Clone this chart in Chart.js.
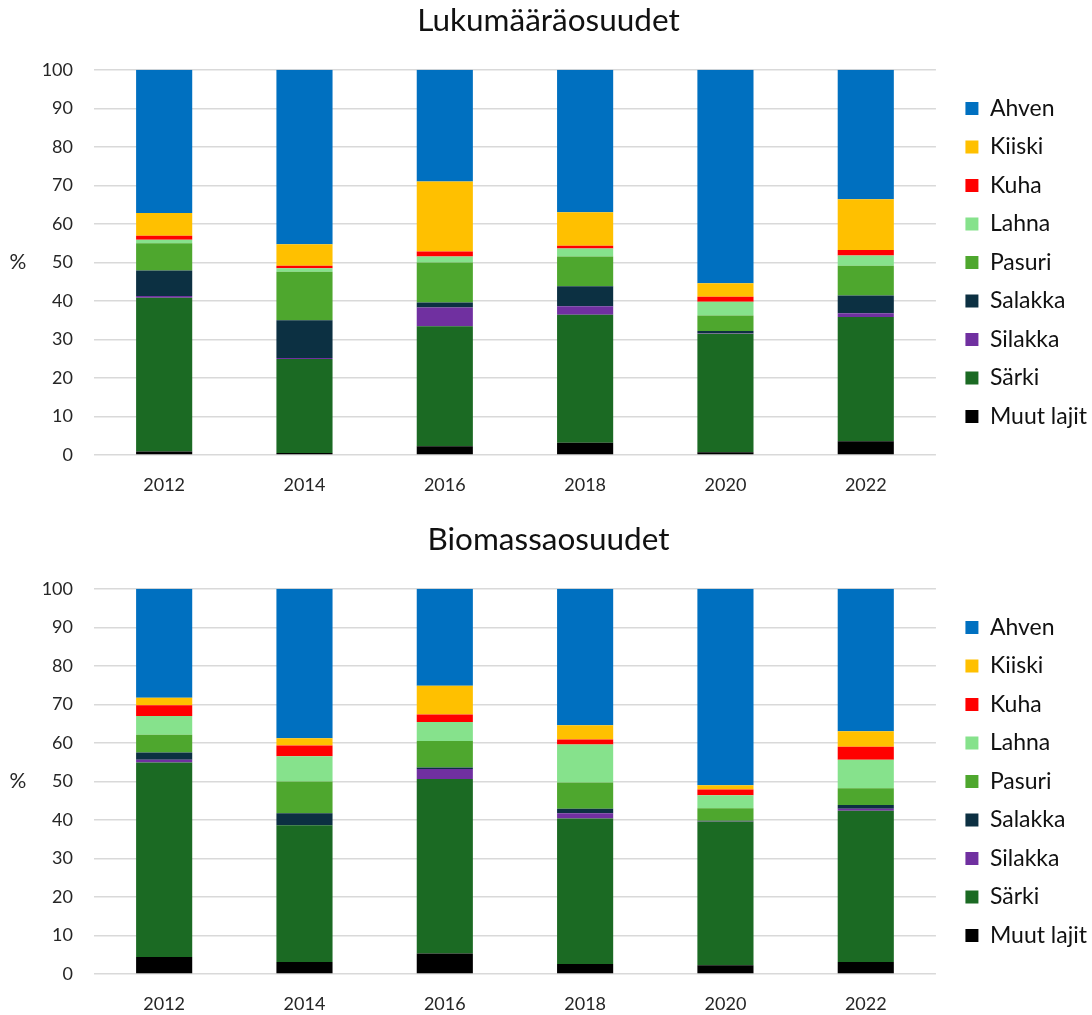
<!DOCTYPE html>
<html lang="fi">
<head>
<meta charset="utf-8">
<title>Lukumäärä- ja biomassaosuudet</title>
<script src="https://cdn.jsdelivr.net/npm/chart.js@4.4.1/dist/chart.umd.min.js"></script>
<style>
    body { margin: 0; background: #ffffff; }
    .chart-box { position: absolute; left: 0; width: 1092px; height: 496px; }
    #countBox { top: 0; }
    #massBox { top: 519px; }
</style>
</head>
<body>
<div class="chart-box" id="countBox"><canvas id="countChart" width="1092" height="496"></canvas></div>
<div class="chart-box" id="massBox"><canvas id="massChart" width="1092" height="496"></canvas></div>

<script>
// vuodet ja lajit (pinon alimmasta ylimpään)
const years = ['2012', '2014', '2016', '2018', '2020', '2022'];
const species = ['Muut lajit', 'Särki', 'Silakka', 'Salakka', 'Pasuri', 'Lahna', 'Kuha', 'Kiiski', 'Ahven'];
const speciesColors = ['#000000', '#1b6a23', '#7030a0', '#0c3042', '#4ea72e', '#86e28c', '#ff0000', '#ffc000', '#0070c0'];
const yTicks = [0, 10, 20, 30, 40, 50, 60, 70, 80, 90, 100];

// lukumääräosuudet (%)
const countMuut    = [0.9, 0.5, 2.3, 3.2, 0.7, 3.6];
const countSarki   = [39.9, 24.4, 31.1, 33.2, 30.8, 32.2];
const countSilakka = [0.5, 0.3, 4.9, 2.2, 0.1, 1.0];
const countSalakka = [6.6, 9.8, 1.3, 5.2, 0.6, 4.6];
const countPasuri  = [7.1, 12.6, 10.4, 7.7, 4.0, 7.7];
const countLahna   = [0.9, 0.9, 1.5, 2.1, 3.6, 2.7];
const countKuha    = [1.0, 0.6, 1.3, 0.7, 1.3, 1.4];
const countKiiski  = [5.9, 5.6, 18.2, 8.7, 3.5, 13.2];
const countAhven   = [37.2, 45.3, 29.0, 37.0, 55.4, 33.6];

// biomassaosuudet (%)
const massMuut    = [4.4, 3.1, 5.3, 2.6, 2.3, 3.1];
const massSarki   = [50.5, 35.5, 45.3, 37.8, 37.3, 39.3];
const massSilakka = [0.7, 0.0, 2.6, 1.3, 0.1, 0.5];
const massSalakka = [1.9, 3.1, 0.4, 1.2, 0.1, 1.0];
const massPasuri  = [4.6, 8.3, 6.9, 6.8, 3.2, 4.3];
const massLahna   = [4.9, 6.5, 4.9, 9.9, 3.4, 7.4];
const massKuha    = [2.8, 2.8, 2.0, 1.3, 1.5, 3.4];
const massKiiski  = [1.9, 1.9, 7.4, 3.7, 1.1, 4.0];
const massAhven   = [28.3, 38.8, 25.2, 35.4, 51.0, 37.0];

const countSeries = [countMuut, countSarki, countSilakka, countSalakka, countPasuri, countLahna, countKuha, countKiiski, countAhven];
const massSeries = [massMuut, massSarki, massSilakka, massSalakka, massPasuri, massLahna, massKuha, massKiiski, massAhven];

Chart.defaults.font.family = 'Lato, "Open Sans", sans-serif';
Chart.defaults.color = '#262626';

// "%" pystyakselin vasemmalle puolelle, ei käännettynä
const percentLabel = {
    id: 'percentLabel',
    afterDraw(chart) {
        const { ctx, chartArea } = chart;
        ctx.save();
        ctx.font = '21px Lato';
        ctx.fillStyle = '#262626';
        ctx.textAlign = 'center';
        ctx.textBaseline = 'middle';
        ctx.fillText('%', 18, (chartArea.top + chartArea.bottom) / 2);
        ctx.restore();
    }
};

function createStackedChart(canvasId, titleText, series) {
    const ctx = document.getElementById(canvasId).getContext('2d');
    return new Chart(ctx, {
        type: 'bar',
        data: {
            labels: years,
            datasets: species.map((name, i) => ({
                label: name,
                data: series[i],
                backgroundColor: speciesColors[i],
                borderWidth: 0,
                barPercentage: 0.4,
                categoryPercentage: 1.0
            }))
        },
        options: {
            responsive: false,
            animation: false,
            layout: { padding: { left: 0, top: 0, bottom: 0, right: -5 } },
            scales: {
                x: {
                    stacked: true,
                    grid: { display: false, drawTicks: false },
                    border: { display: false },
                    ticks: { font: { size: 18 }, padding: 19 },
                    afterFit: scale => { scale.height = 41; }
                },
                y: {
                    stacked: true,
                    min: 0,
                    max: 100,
                    afterBuildTicks: scale => { scale.ticks = yTicks.map(v => ({ value: v })); },
                    grid: { color: '#d9d9d9', lineWidth: 1.5, drawTicks: false },
                    border: { display: false },
                    ticks: { font: { size: 18 }, padding: 21 },
                    afterFit: scale => { scale.width = 94; }
                },
                // tyhjä väli kuvaajan ja selitteen väliin
                gap: {
                    type: 'linear',
                    position: 'right',
                    grid: { display: false },
                    border: { display: false },
                    ticks: { display: false },
                    afterFit: scale => { scale.width = 14; }
                }
            },
            plugins: {
                title: {
                    display: true,
                    text: titleText,
                    color: '#111111',
                    font: { size: 31.5, weight: 'normal' },
                    padding: { top: 2, bottom: 30 }
                },
                legend: {
                    position: 'right',
                    fullSize: false,
                    reverse: true,
                    labels: {
                        boxWidth: 13,
                        boxHeight: 13,
                        padding: 15.5,
                        color: '#111111',
                        font: { size: 23 }
                    }
                },
                tooltip: { enabled: false }
            }
        },
        plugins: [percentLabel]
    });
}

document.addEventListener('DOMContentLoaded', function () {
    createStackedChart('countChart', 'Lukumääräosuudet', countSeries);
    createStackedChart('massChart', 'Biomassaosuudet', massSeries);
});
</script>
</body>
</html>
